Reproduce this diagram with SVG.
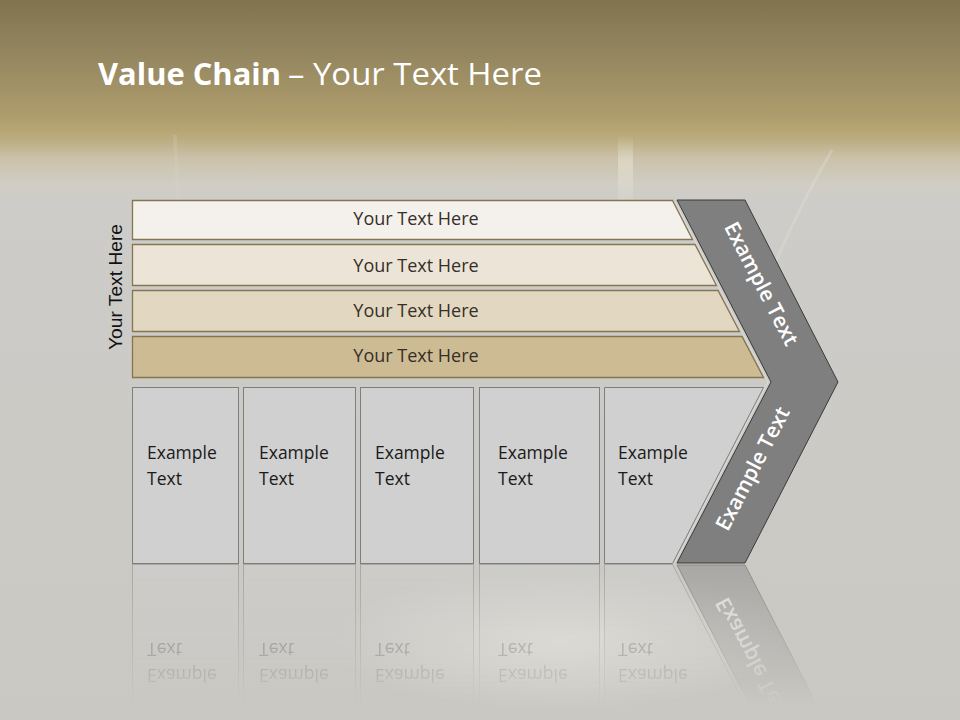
<svg xmlns="http://www.w3.org/2000/svg" width="960" height="720" viewBox="0 0 960 720">
<defs>
<linearGradient id="bg" x1="0" y1="0" x2="0" y2="1" gradientUnits="objectBoundingBox">
<stop offset="0" stop-color="#80744f"/>
<stop offset="0.08" stop-color="#958760"/>
<stop offset="0.16" stop-color="#ad9c6c"/>
<stop offset="0.18" stop-color="#b7a673"/>
<stop offset="0.195" stop-color="#bcad82"/>
<stop offset="0.22" stop-color="#cbc2aa"/>
<stop offset="0.255" stop-color="#d0cdc4"/>
<stop offset="0.28" stop-color="#cdccc8"/>
<stop offset="1" stop-color="#c9c8c3"/>
</linearGradient>
<radialGradient id="glow" cx="0.5" cy="0.5" r="0.5">
<stop offset="0" stop-color="#ecebe3" stop-opacity="0.6"/>
<stop offset="1" stop-color="#ecebe3" stop-opacity="0"/>
</radialGradient>
<linearGradient id="vbar" x1="0" y1="0" x2="0" y2="1">
<stop offset="0" stop-color="#ffffff" stop-opacity="0"/>
<stop offset="0.4" stop-color="#f4efe0" stop-opacity="0.4"/>
<stop offset="1" stop-color="#f4efe0" stop-opacity="0.1"/>
</linearGradient>
<linearGradient id="fade" x1="0" y1="563" x2="0" y2="705" gradientUnits="userSpaceOnUse">
<stop offset="0" stop-color="#fff" stop-opacity="0.45"/>
<stop offset="0.6" stop-color="#fff" stop-opacity="0.2"/>
<stop offset="1" stop-color="#fff" stop-opacity="0"/>
</linearGradient>
<mask id="reflMask" maskUnits="userSpaceOnUse" x="0" y="560" width="960" height="160">
<rect x="0" y="564" width="960" height="156" fill="url(#fade)"/>
</mask>
<g id="lowerSet">
<rect class="box" x="132.5" y="387.5" width="106" height="176"/>
<rect class="box" x="243.5" y="387.5" width="112" height="176"/>
<rect class="box" x="360.5" y="387.5" width="113" height="176"/>
<rect class="box" x="479.5" y="387.5" width="120" height="176"/>
<polygon class="box" points="604.5,387.5 763.5,387.5 672.5,563.5 604.5,563.5"/>
<text class="ex" x="147" y="459">Example</text><text class="ex" x="147" y="485">Text</text>
<text class="ex" x="259" y="459">Example</text><text class="ex" x="259" y="485">Text</text>
<text class="ex" x="375" y="459">Example</text><text class="ex" x="375" y="485">Text</text>
<text class="ex" x="498" y="459">Example</text><text class="ex" x="498" y="485">Text</text>
<text class="ex" x="618" y="459">Example</text><text class="ex" x="618" y="485">Text</text>
<polygon class="chev" points="771,382 838,382 745,563 677,563"/>
<text class="ct" transform="translate(759,472) rotate(-62.5)" text-anchor="middle">Example Text</text>
</g>
</defs>
<style>
.bar{stroke:#857550;stroke-width:1.3}
.bt{font-family:"Open Sans","DejaVu Sans",sans-serif;font-size:18px;fill:#352f28;text-anchor:middle}
.box{fill:#d0d0d0;stroke:#7e7e7e;stroke-width:1}
.ex{font-family:"Open Sans","DejaVu Sans",sans-serif;font-size:17.5px;fill:#1a1a1a}
.chev{fill:#7f7f7f;stroke:#3a3a3a;stroke-width:1}
.ct{font-family:"Open Sans","DejaVu Sans",sans-serif;font-size:21px;font-weight:600;fill:#ffffff}
</style>
<!-- background -->
<rect x="0" y="0" width="960" height="720" fill="url(#bg)"/>
<rect x="618" y="135" width="15" height="70" fill="url(#vbar)"/>
<path d="M832,150 Q800,205 772,270" stroke="#e6e4dc" stroke-opacity="0.3" stroke-width="3" fill="none"/>
<path d="M175,135 L178,200" stroke="#dcd8cc" stroke-opacity="0.2" stroke-width="4" fill="none"/>
<ellipse cx="560" cy="640" rx="230" ry="70" fill="url(#glow)"/>

<!-- title -->
<g id="title">
<text x="98" y="85" font-family="'Open Sans','DejaVu Sans',sans-serif" font-size="31" font-weight="700" fill="#ffffff" textLength="183" lengthAdjust="spacingAndGlyphs">Value Chain</text>
<text x="288" y="85" font-family="'Open Sans','DejaVu Sans',sans-serif" font-size="31" fill="#ffffff" textLength="254" lengthAdjust="spacingAndGlyphs">– Your Text Here</text>
</g>

<!-- side label -->
<g id="side-label">
<text transform="translate(122,287) rotate(-90)" text-anchor="middle" font-family="'Liberation Sans',Arial,sans-serif" font-size="18.5" fill="#111111" textLength="126" lengthAdjust="spacingAndGlyphs">Your Text Here</text>
</g>

<!-- bars -->
<g id="bar1">
<polygon class="bar" fill="#f4f1ec" points="132.5,200.5 672.5,200.5 692.5,239.5 132.5,239.5"/>
<text class="bt" x="416" y="225">Your Text Here</text>
</g>
<g id="bar2">
<polygon class="bar" fill="#ece5d7" points="132.5,244.5 695,244.5 716.5,285.5 132.5,285.5"/>
<text class="bt" x="416" y="272">Your Text Here</text>
</g>
<g id="bar3">
<polygon class="bar" fill="#e2d7c1" points="132.5,290.5 718,290.5 739.5,331.5 132.5,331.5"/>
<text class="bt" x="416" y="317">Your Text Here</text>
</g>
<g id="bar4">
<polygon class="bar" fill="#cdbb94" stroke="#8a7a55" points="132.5,336.5 742,336.5 763.5,377.5 132.5,377.5"/>
<text class="bt" x="416" y="362">Your Text Here</text>
</g>

<!-- chevron -->
<g id="chevron">
<polygon class="chev" points="677,200 745,200 838,382 745,563 677,563 771,382"/>
<path d="M675,202 L768,382 L675,562" stroke="#e8e8e6" stroke-opacity="0.6" stroke-width="1" fill="none"/>
<text class="ct" transform="translate(755,287) rotate(62.5)" text-anchor="middle">Example Text</text>
<text class="ct" transform="translate(759,472) rotate(-62.5)" text-anchor="middle">Example Text</text>
</g>

<!-- lower boxes -->
<g id="box1"><rect class="box" x="132.5" y="387.5" width="106" height="176"/><text class="ex" x="147" y="459">Example</text><text class="ex" x="147" y="485">Text</text></g>
<g id="box2"><rect class="box" x="243.5" y="387.5" width="112" height="176"/><text class="ex" x="259" y="459">Example</text><text class="ex" x="259" y="485">Text</text></g>
<g id="box3"><rect class="box" x="360.5" y="387.5" width="113" height="176"/><text class="ex" x="375" y="459">Example</text><text class="ex" x="375" y="485">Text</text></g>
<g id="box4"><rect class="box" x="479.5" y="387.5" width="120" height="176"/><text class="ex" x="498" y="459">Example</text><text class="ex" x="498" y="485">Text</text></g>
<g id="box5"><polygon class="box" points="604.5,387.5 763.5,387.5 672.5,563.5 604.5,563.5"/><text class="ex" x="618" y="459">Example</text><text class="ex" x="618" y="485">Text</text></g>

<!-- reflection -->
<g id="reflection" mask="url(#reflMask)">
<use href="#lowerSet" transform="translate(0,1128) scale(1,-1)"/>
</g>

<g id="connectors"/>
</svg>
